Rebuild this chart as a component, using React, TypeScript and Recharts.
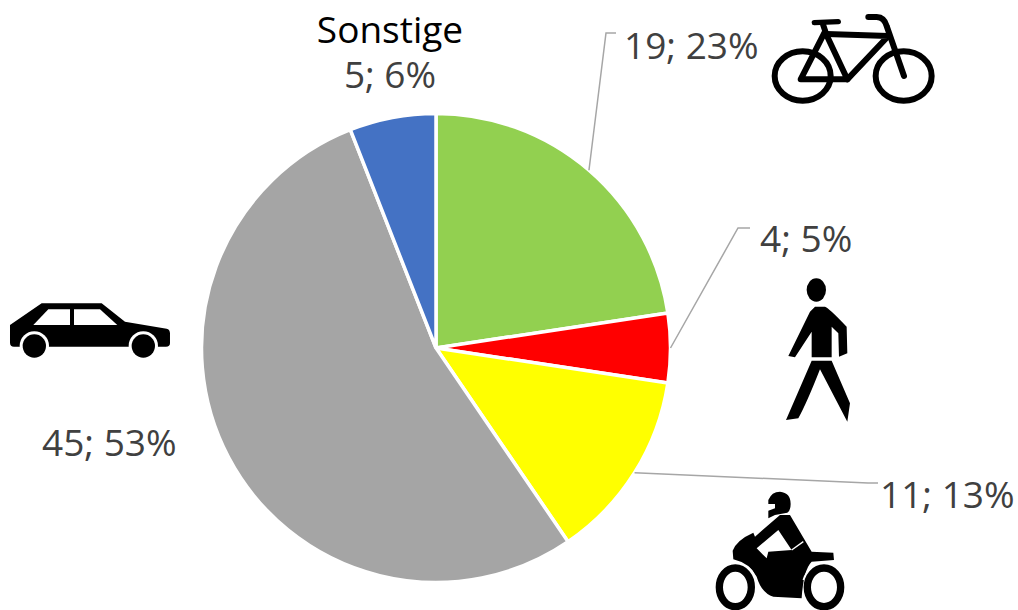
import { PieChart, Pie, Cell } from 'recharts'

const categories = ['Fahrrad', 'Fußgänger', 'Motorrad', 'Auto', 'Sonstige']
const values = [19, 4, 11, 45, 5]
const percents = [23, 5, 13, 53, 6]
const COLORS = ['#92D050', '#FF0000', '#FFFF00', '#A5A5A5', '#4472C4']

const tableData = categories.map((name, i) => ({ name, value: values[i], percent: percents[i] }))

const RADIAN = Math.PI / 180
const FONT = '"Open Sans", sans-serif'
const FONT_SIZE = 37

// label position per slice, elbow is where the leader line bends
const LABEL_LAYOUT = [
    { x: 624, y: 59, anchor: 'start', elbow: [606, 33], end: [616, 33] },
    { x: 760, y: 252, anchor: 'start', elbow: [738, 228], end: [750, 228] },
    { x: 880, y: 508, anchor: 'start', elbow: [868, 483], end: [878, 483] },
    { x: 42, y: 456, anchor: 'start' },
    { x: 390, y: 88, anchor: 'middle', title: true },
]

const renderLabel = ({ cx, cy, midAngle, outerRadius, index }: any) => {
    const pos = LABEL_LAYOUT[index]
    const sx = cx + outerRadius * Math.cos(-midAngle * RADIAN)
    const sy = cy + outerRadius * Math.sin(-midAngle * RADIAN)
    return (
        <g key={`label-${index}`}>
            {pos.elbow && (
                <polyline
                    points={`${sx},${sy} ${pos.elbow[0]},${pos.elbow[1]} ${pos.end[0]},${pos.end[1]}`}
                    fill="none"
                    stroke="#A6A6A6"
                    strokeWidth={1.5}
                />
            )}
            {pos.title && (
                <text x={pos.x} y={pos.y - 45} fill="#000" textAnchor="middle" fontFamily={FONT} fontSize={FONT_SIZE}>
                    {categories[index]}
                </text>
            )}
            <text x={pos.x} y={pos.y} fill="#404040" textAnchor={pos.anchor} fontFamily={FONT} fontSize={FONT_SIZE}>
                {`${values[index]}; ${percents[index]}%`}
            </text>
        </g>
    )
}

// icons traced at 3x, hence the scale
const BikeIcon = () => (
    <g transform="translate(760 0) scale(0.3333)" fill="none" stroke="#000" strokeWidth={18} strokeLinejoin="round" strokeLinecap="round">
        <ellipse cx={128} cy={228} rx={84} ry={74} strokeLinecap="butt" />
        <ellipse cx={431} cy={228} rx={84} ry={74} strokeLinecap="butt" />
        <path d="M122 238 L195 95 L262 238 Z" />
        <path d="M262 238 L385 108 L200 102" />
        <path d="M163 68 L235 65" strokeWidth={16} />
        <path d="M188 70 L198 100" />
        <path d="M325 51 L350 51 Q373 52 380 78 L432 228" />
    </g>
)

const WalkerIcon = () => (
    <g transform="translate(770 270) scale(0.3333)" fill="#000">
        <ellipse cx={139} cy={60} rx={29} ry={35} />
        <path d="M135 110 L165 110 Q175 112 230 170 L232 250 L207 260 L205 190 L185 170 L185 262 L125 262 L125 185 L75 262 L55 258 L120 125 Z" />
        <path d="M125 272 L185 272 L240 400 L232 455 L150 298 Q110 400 85 445 L48 450 Z" />
    </g>
)

const MotorcycleIcon = () => (
    <g transform="translate(700 480) scale(0.3333)">
        <path
            fill="#000"
            d="M98 212 Q110 180 160 158 L165 170 L240 105 L270 105 L335 215 L400 218 L402 240 L335 245 Q310 270 305 355 L220 350 Q185 340 170 290 Q150 250 100 238 Z"
        />
        <path fill="#FFF" d="M170 205 L235 150 L275 210 L205 215 L200 235 Z" />
        <path fill="none" stroke="#FFF" strokeWidth={4} d="M275 210 L310 185" />
        <path fill="#000" d="M205 60 Q215 35 240 35 Q272 38 272 72 Q272 92 262 98 L225 105 L205 115 L205 92 L225 85 L225 72 L205 72 Z" />
        <path fill="none" stroke="#FFF" strokeWidth={5} d="M50 300 Q80 245 130 255 Q160 265 172 310" />
        <path fill="none" stroke="#FFF" strokeWidth={5} d="M310 300 Q330 245 380 250" />
        <ellipse cx={106} cy={322} rx={48} ry={58} fill="none" stroke="#000" strokeWidth={22} />
        <ellipse cx={372} cy={322} rx={50} ry={58} fill="none" stroke="#000" strokeWidth={22} />
    </g>
)

const CarIcon = () => (
    <g transform="translate(0 290) scale(0.3333)">
        <path
            fill="#000"
            d="M30 105 L125 40 L305 40 L375 95 L500 116 Q510 118 510 130 L510 160 Q510 170 498 170 L42 170 Q30 170 30 158 Z"
        />
        <path fill="#FFF" d="M100 105 L145 58 L210 58 L210 105 Z" />
        <path fill="#FFF" d="M222 58 L300 58 L352 105 L222 105 Z" />
        <circle cx={103} cy={168} r={44} fill="#FFF" />
        <circle cx={430} cy={168} r={44} fill="#FFF" />
        <circle cx={103} cy={168} r={35} fill="#000" />
        <circle cx={430} cy={168} r={35} fill="#000" />
    </g>
)

const App = () => {
    return (
        <div style={{ position: 'absolute', left: 0, top: 0 }}>
            <PieChart width={1018} height={610} margin={{ top: 0, right: 0, bottom: 0, left: 0 }}>
                <Pie
                    data={tableData}
                    nameKey="name"
                    dataKey="value"
                    cx={436}
                    cy={348}
                    outerRadius={234.5}
                    startAngle={90}
                    endAngle={-270}
                    stroke="#FFF"
                    strokeWidth={3.5}
                    labelLine={false}
                    label={renderLabel}
                    isAnimationActive={false}
                >
                    {tableData.map((item, index) => (
                        <Cell key={`cell-${index}`} fill={COLORS[index % COLORS.length]} />
                    ))}
                </Pie>
                <BikeIcon />
                <WalkerIcon />
                <MotorcycleIcon />
                <CarIcon />
            </PieChart>
        </div>
    )
}

export default App
